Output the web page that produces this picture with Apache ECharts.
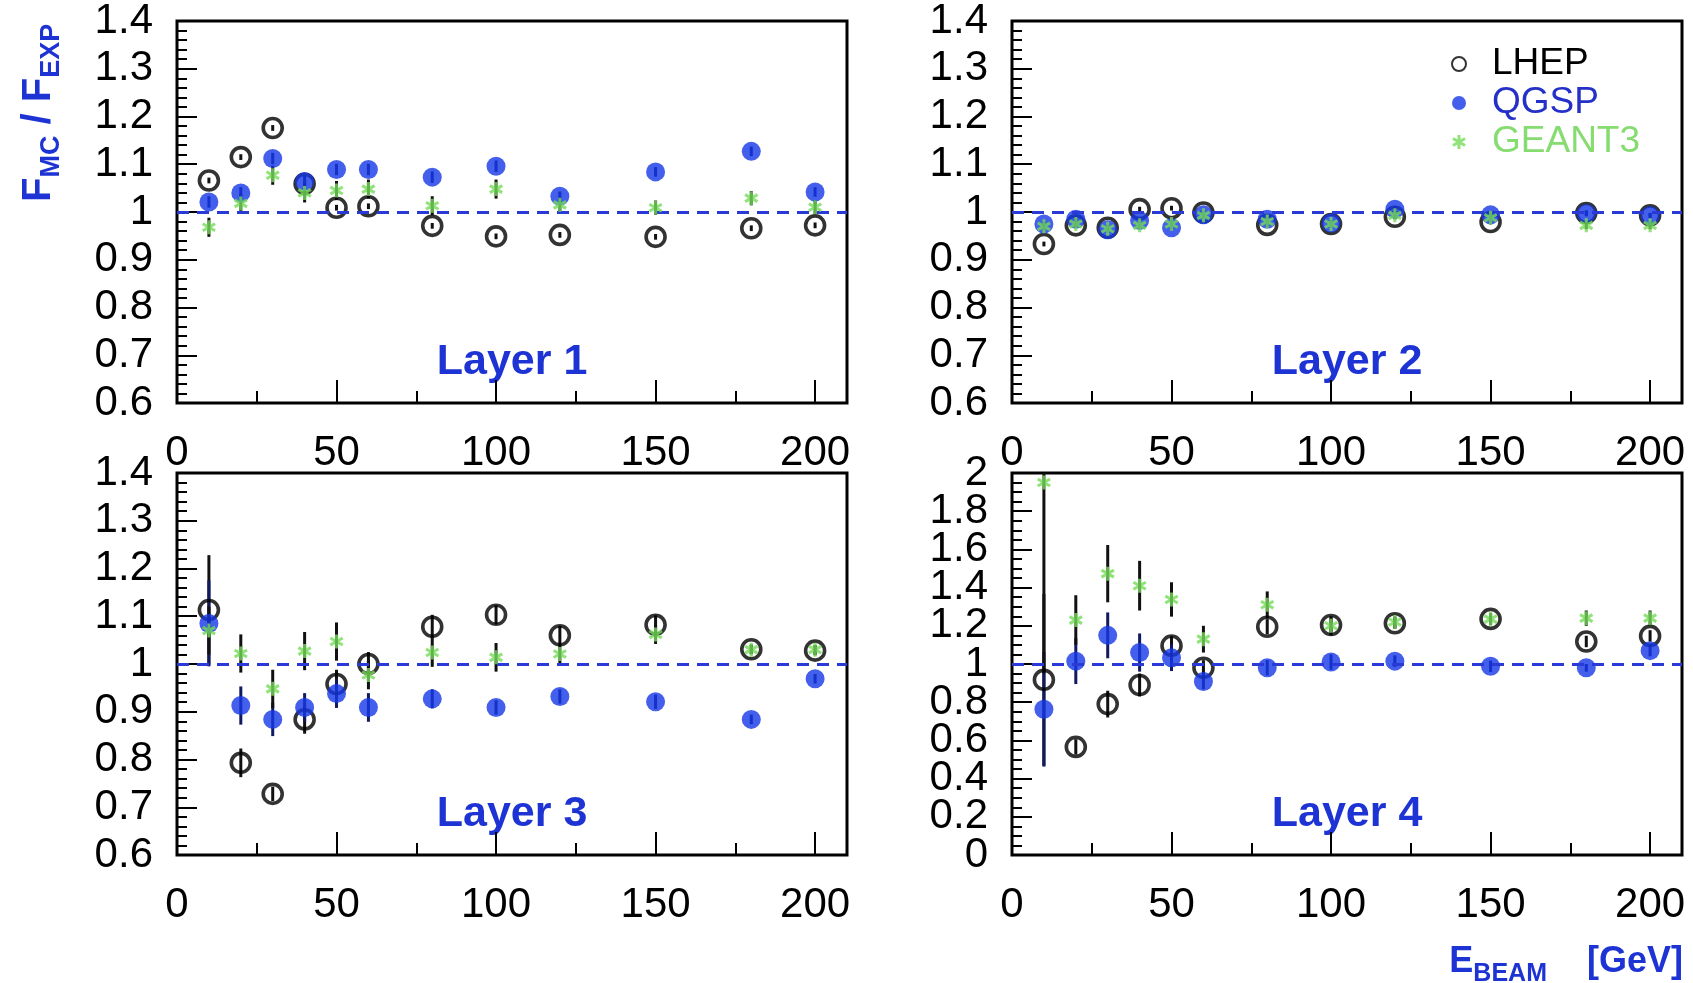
<!DOCTYPE html>
<html>
<head>
<meta charset="utf-8">
<script src="https://cdn.jsdelivr.net/npm/echarts@6/dist/echarts.min.js"></script>
<style>
html,body{margin:0;padding:0;background:#fff;}
#chart{width:1693px;height:983px;}
</style>
</head>
<body>
<div id="chart"></div>
<script>
// ---- data ----
const energies = [10, 20, 30, 40, 50, 60, 80, 100, 120, 150, 180, 200];
const xTicks = [0, 50, 100, 150, 200];
const layer4EdgeLabels = [0, 2];
const models = ['LHEP', 'QGSP', 'GEANT3'];
const layerNames = ['Layer 1', 'Layer 2', 'Layer 3', 'Layer 4'];

const lhep1 = [1.066, 1.115, 1.176, 1.059, 1.009, 1.012, 0.971, 0.949, 0.952, 0.948, 0.966, 0.972];
const qgsp1 = [1.021, 1.040, 1.112, 1.064, 1.089, 1.089, 1.073, 1.096, 1.033, 1.084, 1.127, 1.042];
const geant1 = [0.968, 1.018, 1.077, 1.040, 1.045, 1.048, 1.013, 1.048, 1.015, 1.009, 1.029, 1.010];
const lhep1Err = [0.006, 0.006, 0.006, 0.006, 0.006, 0.006, 0.006, 0.006, 0.006, 0.006, 0.006, 0.006];
const qgsp1Err = [0.012, 0.012, 0.012, 0.012, 0.012, 0.012, 0.012, 0.012, 0.01, 0.01, 0.01, 0.01];
const geant1Err = [0.02, 0.02, 0.02, 0.02, 0.02, 0.02, 0.02, 0.02, 0.015, 0.015, 0.015, 0.015];

const lhep2 = [0.933, 0.972, 0.967, 1.006, 1.008, 0.999, 0.973, 0.975, 0.990, 0.979, 0.998, 0.993];
const qgsp2 = [0.975, 0.985, 0.963, 0.982, 0.967, 0.994, 0.985, 0.977, 1.006, 0.994, 0.997, 0.992];
const geant2 = [0.970, 0.975, 0.965, 0.972, 0.975, 0.993, 0.980, 0.975, 0.993, 0.988, 0.972, 0.972];
const lhep2Err = [0.005, 0.005, 0.005, 0.005, 0.005, 0.005, 0.005, 0.005, 0.005, 0.005, 0.005, 0.005];
const qgsp2Err = [0.006, 0.006, 0.006, 0.006, 0.006, 0.006, 0.006, 0.006, 0.006, 0.006, 0.006, 0.006];
const geant2Err = [0.008, 0.008, 0.008, 0.008, 0.008, 0.008, 0.008, 0.008, 0.008, 0.008, 0.008, 0.008];

const lhep3 = [1.113, 0.793, 0.728, 0.884, 0.958, 1.000, 1.078, 1.103, 1.060, 1.082, 1.031, 1.028];
const qgsp3 = [1.085, 0.913, 0.884, 0.909, 0.938, 0.909, 0.927, 0.909, 0.932, 0.921, 0.884, 0.969];
const geant3 = [1.070, 1.022, 0.948, 1.027, 1.047, 0.977, 1.024, 1.014, 1.021, 1.062, 1.030, 1.030];
const lhep3Err = [0.115, 0.03, 0.015, 0.03, 0.03, 0.025, 0.025, 0.02, 0.02, 0.02, 0.01, 0.01];
const qgsp3Err = [0.09, 0.04, 0.035, 0.03, 0.03, 0.03, 0.02, 0.015, 0.015, 0.015, 0.01, 0.01];
const geant3Err = [0.05, 0.04, 0.04, 0.04, 0.04, 0.03, 0.03, 0.03, 0.02, 0.02, 0.01, 0.01];

const lhep4 = [0.917, 0.566, 0.790, 0.890, 1.096, 0.980, 1.195, 1.204, 1.213, 1.236, 1.118, 1.147];
const qgsp4 = [0.763, 1.015, 1.150, 1.060, 1.033, 0.908, 0.980, 1.010, 1.015, 0.988, 0.980, 1.070];
const geant4 = [1.950, 1.230, 1.473, 1.410, 1.338, 1.130, 1.310, 1.200, 1.220, 1.235, 1.240, 1.240];
const lhep4Err = [0.45, 0.04, 0.07, 0.06, 0.05, 0.04, 0.04, 0.04, 0.03, 0.03, 0.03, 0.03];
const qgsp4Err = [0.30, 0.12, 0.12, 0.10, 0.07, 0.04, 0.04, 0.04, 0.03, 0.03, 0.02, 0.03];
const geant4Err = [1.00, 0.13, 0.15, 0.13, 0.09, 0.07, 0.07, 0.05, 0.03, 0.03, 0.04, 0.04];

const yRanges = [[0.6, 1.4, 0.1], [0.6, 1.4, 0.1], [0.6, 1.4, 0.1], [0, 2, 0.2]];

const panels = [
  {vals: [lhep1, qgsp1, geant1], errs: [lhep1Err, qgsp1Err, geant1Err]},
  {vals: [lhep2, qgsp2, geant2], errs: [lhep2Err, qgsp2Err, geant2Err]},
  {vals: [lhep3, qgsp3, geant3], errs: [lhep3Err, qgsp3Err, geant3Err]},
  {vals: [lhep4, qgsp4, geant4], errs: [lhep4Err, qgsp4Err, geant4Err]}
];

// ---- styling ----
const FONT = '"Liberation Sans", Arial, Helvetica, sans-serif';
const BLUE = '#1437e6';
const TEXT_BLUE = '#1e33d4';
const GREEN = '#74dc58';
const STAR = 'path://M-1.3,-6L1.3,-6L1.3,6L-1.3,6Z M4.546,-4.125L5.846,-1.875L-4.546,4.125L-5.846,1.875Z M5.846,1.875L4.546,4.125L-5.846,-1.875L-4.546,-4.125Z';

const gridPos = [
  {left: 177, top: 21}, {left: 1012, top: 21},
  {left: 177, top: 473}, {left: 1012, top: 473}
];
const GW = 670, GH = 382;

const grids = gridPos.map(g => ({
  left: g.left, top: g.top, width: GW, height: GH,
  show: true, borderColor: '#000', borderWidth: 3, backgroundColor: 'transparent'
}));

const xAxes = gridPos.map((g, i) => ({
  gridIndex: i, type: 'value', min: 0, max: 210, interval: 50,
  axisLine: {show: false},
  axisTick: {show: true, inside: true, length: 23, lineStyle: {color: '#000', width: 2}},
  minorTick: {show: true, splitNumber: 2, length: 12, lineStyle: {color: '#000', width: 2}},
  splitLine: {show: false},
  axisLabel: {
    fontSize: 42, color: '#000', fontFamily: FONT, margin: 29,
    showMinLabel: true, showMaxLabel: false,
    formatter: v => (xTicks.indexOf(Math.round(v)) >= 0 && v <= 200.5) ? String(Math.round(v)) : ''
  }
}));

const yFmt = v => String(Math.round(v * 100) / 100);

const yAxes = gridPos.map((g, i) => ({
  gridIndex: i, type: 'value', position: 'left', offset: 0,
  min: yRanges[i][0], max: yRanges[i][1], interval: yRanges[i][2],
  axisLine: {show: false},
  axisTick: {show: true, inside: true, length: 20, lineStyle: {color: '#000', width: 2}},
  minorTick: {show: true, splitNumber: i === 3 ? 4 : 5, length: 10, lineStyle: {color: '#000', width: 2}},
  splitLine: {show: false},
  axisLabel: {
    fontSize: 42, color: '#000', fontFamily: FONT, margin: 24,
    showMinLabel: i === 3 ? false : true, showMaxLabel: i === 3 ? false : true,
    formatter: yFmt
  }
}));
// extra label-only axis for layer 4's end labels (0 and 2)
yAxes.push({
  gridIndex: 3, type: 'value', position: 'left', offset: 0,
  min: yRanges[3][0], max: yRanges[3][1], interval: yRanges[3][2],
  axisLine: {show: false}, axisTick: {show: false}, minorTick: {show: false}, splitLine: {show: false},
  axisLabel: {
    fontSize: 42, color: '#000', fontFamily: FONT, margin: 24,
    customValues: layer4EdgeLabels, showMinLabel: true, showMaxLabel: true,
    formatter: yFmt
  }
});

const markerStyles = [
  {symbol: 'circle', symbolSize: 19, itemStyle: {color: 'rgba(255,255,255,0)', borderColor: '#000', borderWidth: 3.6}},
  {symbol: 'circle', symbolSize: 19, itemStyle: {color: BLUE, borderWidth: 0}},
  {symbol: STAR, symbolSize: 14, itemStyle: {color: GREEN, borderWidth: 0}}
];

function errRender(color) {
  return function (params, api) {
    const x = api.value(0), y = api.value(1), e = api.value(2);
    const p1 = api.coord([x, y - e]);
    const p2 = api.coord([x, y + e]);
    return {type: 'line', shape: {x1: p1[0], y1: p1[1], x2: p2[0], y2: p2[1]},
      style: {stroke: color, lineWidth: 3}};
  };
}

const series = [];
panels.forEach((p, pi) => {
  models.forEach((m, mi) => {
    series.push({
      type: 'custom', name: m + ' err', xAxisIndex: pi, yAxisIndex: pi, z: 1, clip: true,
      silent: true, legendHoverLink: false,
      renderItem: errRender(mi === 1 ? '#101a60' : '#111'),
      data: energies.map((e, i) => [e, p.vals[mi][i], p.errs[mi][i]])
    });
  });
  series.push({
    type: 'line', name: 'ref', xAxisIndex: pi, yAxisIndex: pi, data: [], z: 2,
    markLine: {
      silent: true, symbol: ['none', 'none'], label: {show: false},
      lineStyle: {color: '#2a3ad6', type: [12, 8], width: 2.8},
      data: [{yAxis: 1}]
    }
  });
  models.forEach((m, mi) => {
    series.push(Object.assign({
      type: 'scatter', name: m, xAxisIndex: pi, yAxisIndex: pi, z: 3 + mi, clip: true,
      data: energies.map((e, i) => [e, p.vals[mi][i]])
    }, markerStyles[mi]));
  });
});

const graphics = [];
gridPos.forEach((g, i) => {
  graphics.push({
    type: 'text',
    x: g.left + GW / 2, y: g.top + GH - 41,
    style: {text: layerNames[i], fill: TEXT_BLUE, font: 'bold 43px ' + FONT, align: 'center', verticalAlign: 'middle'}
  });
});
graphics.push({
  type: 'text', x: 19, y: 202, rotation: Math.PI / 2,
  style: {
    text: '{b|F}{s|MC}{b| / F}{s|EXP}', align: 'left', verticalAlign: 'top',
    rich: {
      b: {fontSize: 40, fontWeight: 'bold', fontFamily: FONT, fill: TEXT_BLUE, color: TEXT_BLUE, lineHeight: 40, verticalAlign: 'top'},
      s: {fontSize: 27, fontWeight: 'bold', fontFamily: FONT, fill: TEXT_BLUE, color: TEXT_BLUE, lineHeight: 27, padding: [19, 0, 0, 0], verticalAlign: 'top'}
    }
  }
});
graphics.push({
  type: 'text', x: 1683, y: 944,
  style: {
    text: '{b|E}{s|BEAM}{b|    [GeV]}', align: 'right', verticalAlign: 'top',
    rich: {
      b: {fontSize: 36, fontWeight: 'bold', fontFamily: FONT, fill: TEXT_BLUE, color: TEXT_BLUE, lineHeight: 38, verticalAlign: 'top'},
      s: {fontSize: 25, fontWeight: 'bold', fontFamily: FONT, fill: TEXT_BLUE, color: TEXT_BLUE, lineHeight: 25, padding: [18, 0, 0, 0], verticalAlign: 'top'}
    }
  }
});

const chart = echarts.init(document.getElementById('chart'), null, {renderer: 'canvas'});
chart.setOption({
  backgroundColor: '#fff',
  animation: false,
  grid: grids,
  xAxis: xAxes,
  yAxis: yAxes,
  legend: {
    orient: 'vertical', left: 1446, top: 40, itemGap: 1,
    itemWidth: 56, itemHeight: 14,
    selectedMode: false,
    textStyle: {fontSize: 37, fontFamily: FONT, lineHeight: 38},
    data: [
      {name: 'LHEP', textStyle: {color: '#000'}},
      {name: 'QGSP', textStyle: {color: '#2530c8'}},
      {name: 'GEANT3', textStyle: {color: '#86dc70'}}
    ]
  },
  series: series,
  graphic: graphics
});
</script>
</body>
</html>
